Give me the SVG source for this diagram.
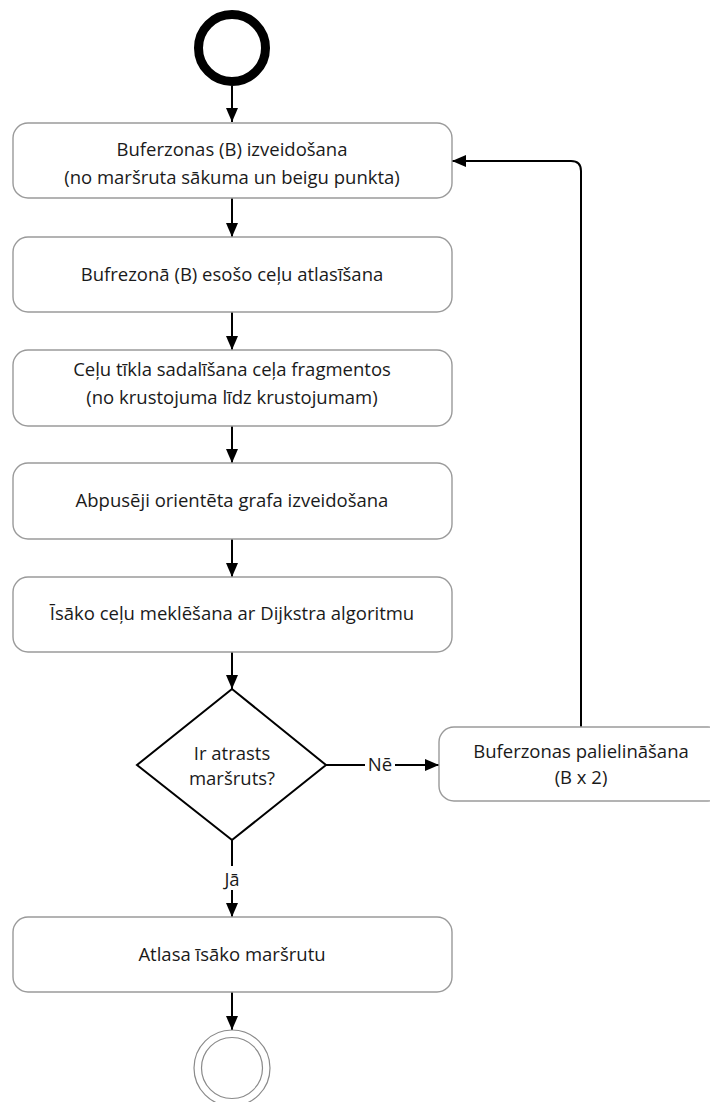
<svg xmlns="http://www.w3.org/2000/svg" width="710" height="1102" viewBox="0 0 710 1102">
<style>
.box{fill:#fff;stroke:#9a9a9a;stroke-width:1.4}
.t{font-family:"Open Sans","Liberation Sans",sans-serif;font-size:18.5px;fill:#1a1a1a;text-anchor:middle}
.c{fill:none;stroke:#000;stroke-width:2}
</style>
<defs>
<marker id="ah" viewBox="0 0 14 12" refX="14" refY="6" markerWidth="14" markerHeight="12" markerUnits="userSpaceOnUse" orient="auto">
<path d="M0,0 L14,6 L0,12 Z" fill="#000"/>
</marker>
</defs>
<rect width="710" height="1102" fill="#fff"/>
<g id="connectors">
<line class="c" x1="232" y1="86" x2="232" y2="122" marker-end="url(#ah)"/>
<line class="c" x1="232" y1="198" x2="232" y2="237" marker-end="url(#ah)"/>
<line class="c" x1="232" y1="312" x2="232" y2="350" marker-end="url(#ah)"/>
<line class="c" x1="232" y1="426" x2="232" y2="463" marker-end="url(#ah)"/>
<line class="c" x1="232" y1="539" x2="232" y2="577" marker-end="url(#ah)"/>
<line class="c" x1="232" y1="652" x2="232" y2="689" marker-end="url(#ah)"/>
<line class="c" x1="232" y1="840" x2="232" y2="917" marker-end="url(#ah)"/>
<line class="c" x1="232" y1="992" x2="232" y2="1030" marker-end="url(#ah)"/>
<line class="c" x1="326" y1="765" x2="439" y2="765" marker-end="url(#ah)"/>
<path class="c" d="M581,727 L581,171 Q581,161 571,161 L452,161" marker-end="url(#ah)"/>
<rect x="221" y="866" width="22" height="24" fill="#fff"/>
<text class="t" x="232" y="886">Jā</text>
<rect x="365" y="754" width="30" height="22" fill="#fff"/>
<text class="t" x="380" y="771">Nē</text>
</g>
<g id="start"><circle cx="232" cy="48" r="33.5" fill="none" stroke="#000" stroke-width="9"/></g>
<g id="n1"><rect class="box" x="13" y="123" width="439" height="75" rx="15"/>
<text class="t" x="232" y="156">Buferzonas (B) izveidošana</text>
<text class="t" x="232" y="184">(no maršruta sākuma un beigu punkta)</text></g>
<g id="n2"><rect class="box" x="13" y="237" width="439" height="75" rx="15"/>
<text class="t" x="232" y="281">Bufrezonā (B) esošo ceļu atlasīšana</text></g>
<g id="n3"><rect class="box" x="13" y="350" width="439" height="76" rx="15"/>
<text class="t" x="232" y="376">Ceļu tīkla sadalīšana ceļa fragmentos</text>
<text class="t" x="232" y="404">(no krustojuma līdz krustojumam)</text></g>
<g id="n4"><rect class="box" x="13" y="463" width="439" height="76" rx="15"/>
<text class="t" x="232" y="507">Abpusēji orientēta grafa izveidošana</text></g>
<g id="n5"><rect class="box" x="13" y="577" width="439" height="75" rx="15"/>
<text class="t" x="232" y="620">Īsāko ceļu meklēšana ar Dijkstra algoritmu</text></g>
<g id="d1"><polygon points="232,689 326,765 232,840 137,765" fill="#fff" stroke="#000" stroke-width="2"/>
<text class="t" x="232" y="760">Ir atrasts</text>
<text class="t" x="232" y="785">maršruts?</text></g>
<g id="n6"><rect class="box" x="439" y="727" width="284" height="74" rx="15"/>
<text class="t" x="581" y="758">Buferzonas palielināšana</text>
<text class="t" x="581" y="784">(B x 2)</text></g>
<g id="n7"><rect class="box" x="13" y="917" width="439" height="75" rx="15"/>
<text class="t" x="232" y="961">Atlasa īsāko maršrutu</text></g>
<g id="end"><circle cx="232" cy="1068" r="38" fill="#fff" stroke="#8a8a8a" stroke-width="1.2"/>
<circle cx="232" cy="1068" r="30.5" fill="none" stroke="#8a8a8a" stroke-width="1.2"/></g>
</svg>
